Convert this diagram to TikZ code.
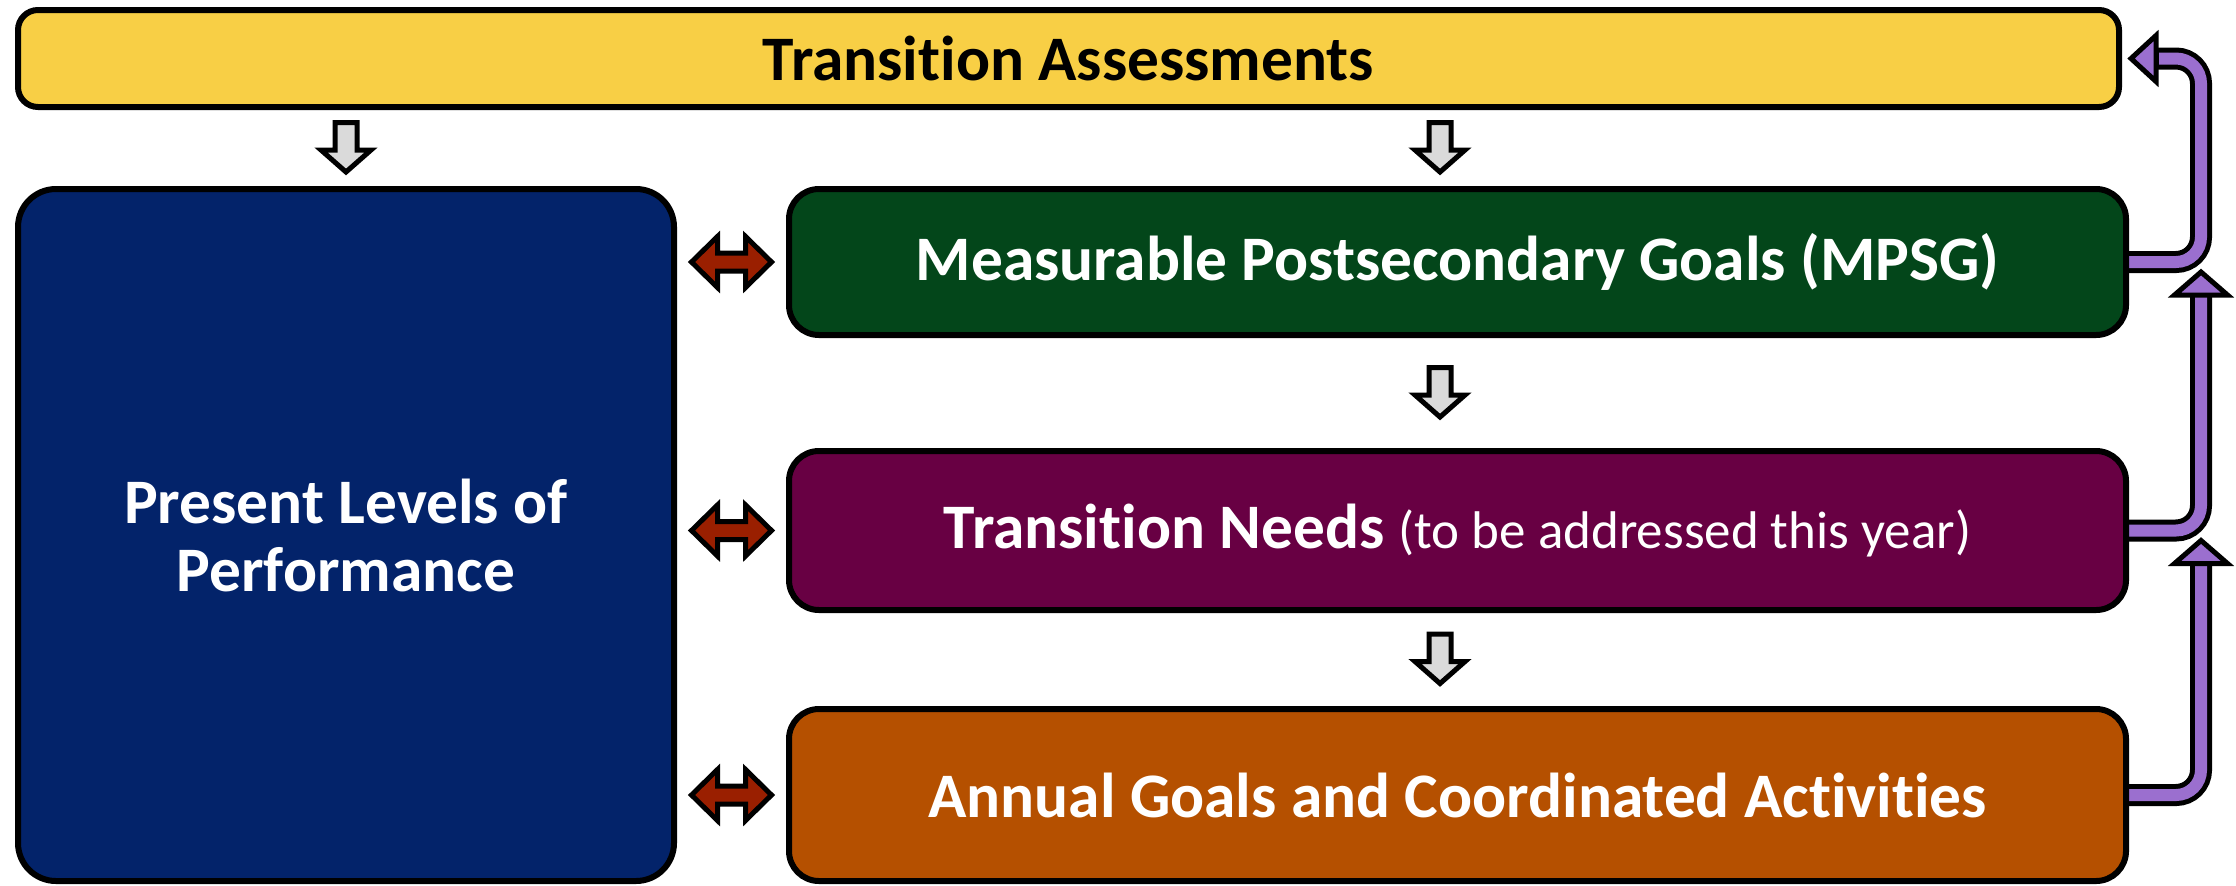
\documentclass[tikz,border=0pt]{standalone}
\usepackage{fontspec}
\setmainfont{Carlito}[RawFeature={-liga;-clig}]
\usetikzlibrary{calc,backgrounds}
\definecolor{cyellow}{HTML}{F8CF45}
\definecolor{cblue}{HTML}{03236A}
\definecolor{cgreen}{HTML}{03461A}
\definecolor{cplum}{HTML}{680043}
\definecolor{corange}{HTML}{B55000}
\definecolor{cred}{HTML}{9A1F00}
\definecolor{cgray}{HTML}{DADADA}
\definecolor{cviolet}{HTML}{9B6FCF}
\begin{document}
\begin{tikzpicture}[x=0.5pt,y=-0.5pt,
  box/.style={draw=black,line width=3pt,inner sep=0pt,text=white,
    font=\bfseries\fontsize{31.7}{34}\selectfont,align=center},
  rbox/.style={box,minimum width=668.5pt,rounded corners=15pt},
  garrow/.style={draw=black,fill=cgray,line width=2.5pt,line join=miter},
  rarrow/.style={draw=black,fill=cred,line width=2.5pt,line join=miter},
  pout/.style={draw=black,line width=11pt,rounded corners=12.5pt},
  pin/.style={draw=cviolet,line width=6pt,rounded corners=12.5pt},
  phead/.style={draw=black,fill=cviolet,line width=2.5pt,line join=miter}]
\useasboundingbox (0,0) rectangle (2236,885);

\node[box,fill=cyellow,text=black,minimum width=1050.5pt,minimum height=48.5pt,rounded corners=10pt] (assess) at (1068.5,58.5) {Transition Assessments};
\node[box,fill=cblue,minimum width=328pt,minimum height=346pt,rounded corners=19pt] (plp) at (346,535) {Present Levels of\\Performance};
\node[rbox,fill=cgreen,minimum height=73pt] (mpsg) at (1457.5,262) {Measurable Postsecondary Goals (MPSG)};
\node[rbox,fill=cplum,minimum height=79.5pt] (needs) at (1457.5,530.5) {Transition Needs {\mdseries\fontsize{26.5}{30}\selectfont (to be addressed this year)}};
\node[rbox,fill=corange,minimum height=86pt] (annual) at (1457.5,795) {Annual Goals and Coordinated Activities};

% gray down arrows
\coordinate (ax) at (1440,0);
\coordinate (g1) at ($(assess.south -| plp.north)!0.5!(plp.north)$);
\coordinate (g2) at ($(ax |- assess.south)!0.5!(ax |- mpsg.north)$);
\coordinate (g3) at ($(ax |- mpsg.south)!0.5!(ax |- needs.north)$);
\coordinate (g4) at ($(ax |- needs.south)!0.5!(ax |- annual.north)$);
\foreach \g in {g1,g2,g3,g4}{
  \draw[garrow,shift={(\g)}] (-11,-25.5) -- (11,-25.5) -- (11,2) -- (25,2) -- (0,24) -- (-25,2) -- (-11,2) -- cycle;
}

% red double arrows
\coordinate (r1) at ($(plp.east |- mpsg.west)!0.5!(mpsg.west)$);
\coordinate (r2) at ($(plp.east |- needs.west)!0.5!(needs.west)$);
\coordinate (r3) at ($(plp.east |- annual.west)!0.5!(annual.west)$);
\foreach \r in {r1,r2,r3}{
  \draw[rarrow,shift={(\r)}] (-40,0) -- (-14,-25.5) -- (-14,-9) -- (14,-9) -- (14,-25.5) -- (40,0) -- (14,25.5) -- (14,9) -- (-14,9) -- (-14,25.5) -- cycle;
}

% violet feedback connectors
\coordinate (cx) at (2201,0);
\begin{scope}[on background layer]
  \draw[pout] (mpsg.east) -- (mpsg.east -| cx) -- (cx |- assess.east) -- ($(assess.east)+(34,0)$);
  \draw[pin] (mpsg.east) -- (mpsg.east -| cx) -- (cx |- assess.east) -- ($(assess.east)+(37,0)$);
  \draw[phead] ($(assess.east)+(9,0)$) -- ++(25,-23) -- ++(0,46) -- cycle;

  \draw[pout] (needs.east) -- (needs.east -| cx) -- ($(mpsg.east -| cx)+(0,33)$);
  \draw[pin] (needs.east) -- (needs.east -| cx) -- ($(mpsg.east -| cx)+(0,30)$);
  \draw[phead] ($(mpsg.east -| cx)+(0,10)$) -- ++(26.5,23) -- ++(-53,0) -- cycle;

  \draw[pout] (annual.east) -- (annual.east -| cx) -- ($(needs.east -| cx)+(0,33)$);
  \draw[pin] (annual.east) -- (annual.east -| cx) -- ($(needs.east -| cx)+(0,30)$);
  \draw[phead] ($(needs.east -| cx)+(0,10)$) -- ++(26.5,23) -- ++(-53,0) -- cycle;
\end{scope}
\end{tikzpicture}
\end{document}
